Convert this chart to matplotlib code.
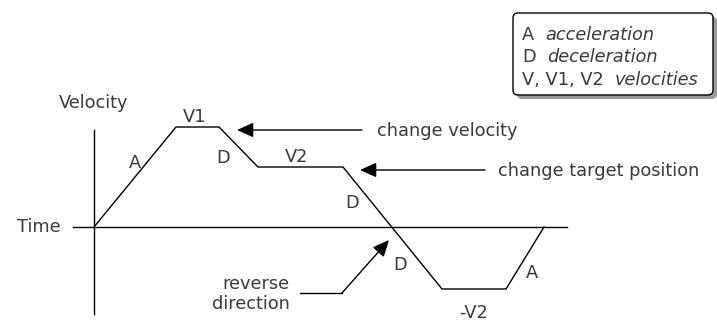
import matplotlib
matplotlib.use("Agg")
import matplotlib.pyplot as plt
from matplotlib.patches import FancyBboxPatch

# velocity profile: time breakpoints and velocity at each breakpoint
time = [0, 82, 125, 164, 249, 348, 412, 450]
velocity = [0, 100, 100, 60, 60, -62, -62, 0]

segment_labels = ["A", "V1", "D", "V2", "D", "D", "-V2", "A"]
legend_keys = ["A", "D", "V, V1, V2"]
legend_terms = ["acceleration", "deceleration", "velocities"]

TEXT = "#3a3a3a"
FS = 12.8
plt.rcParams["font.family"] = ["DejaVu Sans"]

fig = plt.figure(figsize=(7.17, 3.22), dpi=100)
ax = fig.add_axes([0, 0, 1, 1])
ax.set_xlim(-94, 623)
ax.set_ylim(-95, 227)
ax.axis("off")

# axes of the diagram
ax.plot([-21, 473], [0, 0], color="black", lw=1.0)
ax.plot([0, 0], [97, -87], color="black", lw=1.0)
ax.text(0, 124, "Velocity", ha="center", va="center", fontsize=FS, color=TEXT)
ax.text(-33, 0, "Time", ha="right", va="center", fontsize=FS, color=TEXT)

# the velocity profile
ax.plot(time, velocity, color="black", lw=1.0)

label_pos = [(41, 64), (101, 110), (129, 69), (203, 70), (258, 24),
             (306, -38), (379, -86), (438, -46)]
for lab, (x, y) in zip(segment_labels, label_pos):
    ax.text(x, y, lab, ha="center", va="center", fontsize=FS, color=TEXT)

arrow = dict(arrowstyle="-|>,head_length=1.0,head_width=0.45",
             color="black", lw=1.0, shrinkA=0, shrinkB=0)

ax.annotate("", xy=(143, 97), xytext=(268, 97), arrowprops=arrow)
ax.text(283, 96, "change velocity", ha="left", va="center", fontsize=FS, color=TEXT)

ax.annotate("", xy=(266, 57), xytext=(391, 57), arrowprops=arrow)
ax.text(404, 56, "change target position", ha="left", va="center",
        fontsize=FS, color=TEXT)

ax.plot([206, 248], [-66, -66], color="black", lw=1.0)
ax.annotate("", xy=(295, -13), xytext=(248, -66), arrowprops=arrow)
ax.text(196, -67, "reverse\ndirection", ha="right", va="center",
        fontsize=FS, color=TEXT, linespacing=1.1)

# key box with shadow
box_x, box_y, box_w, box_h = 419, 132, 200, 82
shadow = FancyBboxPatch((box_x + 4, box_y - 4), box_w, box_h,
                        boxstyle="round,pad=0,rounding_size=5",
                        fc="#9a9a9a", ec="none")
ax.add_patch(shadow)
box = FancyBboxPatch((box_x, box_y), box_w, box_h,
                     boxstyle="round,pad=0,rounding_size=5",
                     fc="white", ec="black", lw=1.0)
ax.add_patch(box)

key_y = [192, 170, 147]
for key, term, y in zip(legend_keys, legend_terms, key_y):
    k = ax.text(428, y, key, ha="left", va="center", fontsize=FS, color=TEXT)
    ax.annotate(term, xy=(1, 0.5), xycoords=k, xytext=(8, 0),
                textcoords="offset points", ha="left", va="center",
                fontsize=FS, color=TEXT, style="italic")

fig.savefig("out.png", dpi=100)
